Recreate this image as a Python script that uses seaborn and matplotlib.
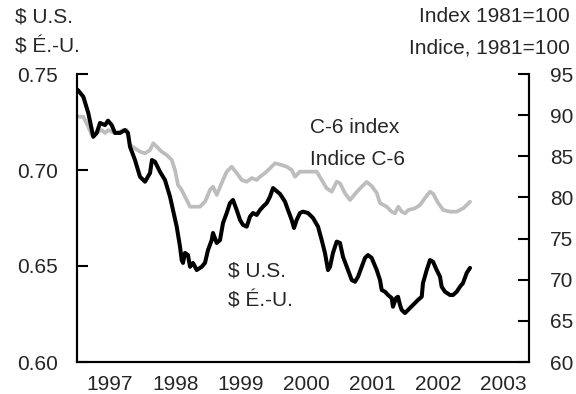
import matplotlib
matplotlib.use("Agg")
import matplotlib.pyplot as plt
import seaborn as sns
from matplotlib.ticker import FixedLocator, FixedFormatter, FormatStrFormatter

# Canadian dollar in US cents (left axis) and C-6 index (right axis), decimal years
usd_years = [
    1997.011, 1997.096, 1997.172, 1997.248, 1997.300, 1997.351, 1997.427, 1997.473, 1997.529, 1997.579,
    1997.655, 1997.732, 1997.777, 1997.808, 1997.884, 1997.960, 1998.037, 1998.113, 1998.143, 1998.189,
    1998.265, 1998.341, 1998.418, 1998.463, 1998.520, 1998.570, 1998.596, 1998.616, 1998.646, 1998.692,
    1998.723, 1998.768, 1998.825, 1998.901, 1998.951, 1998.997, 1999.053, 1999.073, 1999.130, 1999.180,
    1999.226, 1999.282, 1999.332, 1999.378, 1999.434, 1999.485, 1999.530, 1999.587, 1999.637, 1999.683,
    1999.739, 1999.790, 1999.835, 1999.892, 1999.942, 1999.988, 2000.095, 2000.171, 2000.216, 2000.273,
    2000.308, 2000.349, 2000.399, 2000.445, 2000.521, 2000.598, 2000.674, 2000.730, 2000.780, 2000.826,
    2000.857, 2000.902, 2000.959, 2001.009, 2001.055, 2001.131, 2001.188, 2001.238, 2001.284, 2001.340,
    2001.390, 2001.436, 2001.492, 2001.569, 2001.619, 2001.645, 2001.695, 2001.741, 2001.797, 2001.817,
    2001.863, 2001.893, 2001.924, 2001.950, 2002.000, 2002.046, 2002.122, 2002.198, 2002.255, 2002.274,
    2002.331, 2002.381, 2002.427, 2002.483, 2002.534, 2002.559, 2002.610, 2002.686, 2002.732, 2002.788,
    2002.838, 2002.884, 2002.941, 2002.991,
]
usd_values = [
    0.7417, 0.7382, 0.7297, 0.7173, 0.7193, 0.7245, 0.7234, 0.7257, 0.7234, 0.7193,
    0.7193, 0.7208, 0.7193, 0.7121, 0.7052, 0.6965, 0.6939, 0.6984, 0.7052, 0.7043,
    0.6991, 0.6948, 0.6861, 0.6792, 0.6705, 0.6601, 0.6531, 0.6516, 0.6568, 0.6557,
    0.6496, 0.6516, 0.6479, 0.6496, 0.6516, 0.6583, 0.6635, 0.6672, 0.6620, 0.6635,
    0.6724, 0.6776, 0.6828, 0.6844, 0.6792, 0.6740, 0.6714, 0.6705, 0.6757, 0.6776,
    0.6766, 0.6792, 0.6809, 0.6828, 0.6861, 0.6906, 0.6875, 0.6835, 0.6792, 0.6740,
    0.6698, 0.6740, 0.6776, 0.6783, 0.6776, 0.6750, 0.6705, 0.6635, 0.6568, 0.6479,
    0.6496, 0.6568, 0.6627, 0.6620, 0.6548, 0.6479, 0.6427, 0.6418, 0.6444, 0.6496,
    0.6542, 0.6557, 0.6542, 0.6479, 0.6427, 0.6375, 0.6366, 0.6349, 0.6333, 0.6288,
    0.6333, 0.6340, 0.6297, 0.6271, 0.6255, 0.6271, 0.6297, 0.6323, 0.6340, 0.6411,
    0.6479, 0.6531, 0.6522, 0.6479, 0.6444, 0.6392, 0.6366, 0.6349, 0.6349, 0.6366,
    0.6392, 0.6411, 0.6464, 0.6490,
]

c6_years = [
    1997.011, 1997.096, 1997.172, 1997.224, 1997.300, 1997.377, 1997.427, 1997.477, 1997.529, 1997.579,
    1997.655, 1997.706, 1997.758, 1997.808, 1997.884, 1997.960, 1998.037, 1998.113, 1998.163, 1998.215,
    1998.291, 1998.367, 1998.444, 1998.494, 1998.540, 1998.596, 1998.672, 1998.723, 1998.799, 1998.875,
    1998.951, 1999.027, 1999.073, 1999.130, 1999.206, 1999.282, 1999.358, 1999.434, 1999.511, 1999.587,
    1999.663, 1999.739, 1999.790, 1999.866, 1999.942, 2000.018, 2000.120, 2000.197, 2000.273, 2000.323,
    2000.399, 2000.552, 2000.654, 2000.730, 2000.806, 2000.883, 2000.959, 2001.009, 2001.085, 2001.162,
    2001.264, 2001.340, 2001.416, 2001.492, 2001.569, 2001.619, 2001.721, 2001.797, 2001.848, 2001.898,
    2001.950, 2002.000, 2002.050, 2002.152, 2002.229, 2002.305, 2002.381, 2002.431, 2002.508, 2002.584,
    2002.686, 2002.788, 2002.889, 2002.991,
]
c6_values = [
    89.81, 89.81, 88.60, 87.59, 87.83, 88.19, 87.83, 88.19, 87.99, 87.83,
    87.99, 88.19, 88.19, 86.37, 85.97, 85.56, 85.36, 85.76, 86.58, 86.17,
    85.56, 85.16, 84.55, 83.33, 81.51, 80.90, 79.69, 78.87, 78.87, 78.87,
    79.48, 80.90, 81.30, 80.30, 81.75, 83.13, 83.73, 82.97, 82.12, 81.91,
    82.36, 82.12, 82.52, 82.97, 83.54, 84.15, 83.94, 83.73, 83.33, 82.52,
    83.13, 83.13, 83.13, 82.12, 81.11, 80.70, 81.91, 81.72, 80.50, 79.69,
    80.66, 81.30, 81.88, 81.39, 80.54, 79.32, 78.87, 78.27, 78.07, 78.87,
    78.27, 78.07, 78.47, 78.68, 79.08, 79.93, 80.70, 80.42, 79.29, 78.47,
    78.27, 78.27, 78.68, 79.48,
]

year_labels = ["1997", "1998", "1999", "2000", "2001", "2002", "2003"]
year_boundaries = [1998, 1999, 2000, 2001, 2002, 2003]
year_centres = [1997.5, 1998.5, 1999.5, 2000.5, 2001.5, 2002.5, 2003.5]
usd_ticks = [0.60, 0.65, 0.70, 0.75]
c6_ticks = [60, 65, 70, 75, 80, 85, 90, 95]

sns.set_style("white")
plt.rcParams["font.family"] = ["Liberation Sans", "DejaVu Sans"]
plt.rcParams["font.size"] = 15

W, H = 576, 394
fig = plt.figure(figsize=(W / 100, H / 100), dpi=100)
ax = fig.add_axes([77 / W, 1 - 362 / H, (529 - 77) / W, (362 - 74) / H])
ax2 = ax.twinx()

sns.lineplot(x=c6_years, y=c6_values, ax=ax2, color="#bdbdbd", linewidth=2.7)
sns.lineplot(x=usd_years, y=usd_values, ax=ax, color="black", linewidth=2.9)

# keep the dollar line above the index line
ax.set_zorder(ax2.get_zorder() + 1)
ax.patch.set_visible(False)

ax.set_xlim(1997, 1997 + 452 / 65.6)
ax.set_ylim(0.60, 0.75)
ax2.set_ylim(60, 95)
ax.set_xlabel("")
ax.set_ylabel("")
ax2.set_ylabel("")

ax.xaxis.set_major_locator(FixedLocator(year_boundaries))
ax.xaxis.set_major_formatter(FixedFormatter([""] * len(year_boundaries)))
ax.xaxis.set_minor_locator(FixedLocator(year_centres))
ax.xaxis.set_minor_formatter(FixedFormatter(year_labels))
ax.set_yticks(usd_ticks)
ax.yaxis.set_major_formatter(FormatStrFormatter("%.2f"))
ax2.set_yticks(c6_ticks)

ax.tick_params(axis="x", which="major", direction="in", length=8, width=1.5, color="black")
ax.tick_params(axis="x", which="minor", length=0, pad=9, labelsize=15)
ax.tick_params(axis="y", direction="in", length=8, width=1.5, pad=14, labelsize=15, color="black")
ax2.tick_params(axis="y", direction="in", length=8, width=1.5, pad=15, labelsize=15, color="black")

for a in (ax, ax2):
    a.spines["top"].set_visible(False)
    for s in ("left", "right", "bottom"):
        a.spines[s].set_linewidth(1.5)
        a.spines[s].set_color("black")

def px_text(x, y, s, ha="left"):
    fig.text(x / W, 1 - y / H, s, ha=ha, va="baseline", fontsize=15)

px_text(15, 22, "$ U.S.")
px_text(15, 53, "$ É.-U.")
px_text(570, 22, "Index 1981=100", ha="right")
px_text(570, 53, "Indice, 1981=100", ha="right")
px_text(310, 133, "C-6 index")
px_text(310, 165, "Indice C-6")
px_text(228, 277, "$ U.S.")
px_text(228, 306, "$ É.-U.")

fig.savefig("out.png", dpi=100)
